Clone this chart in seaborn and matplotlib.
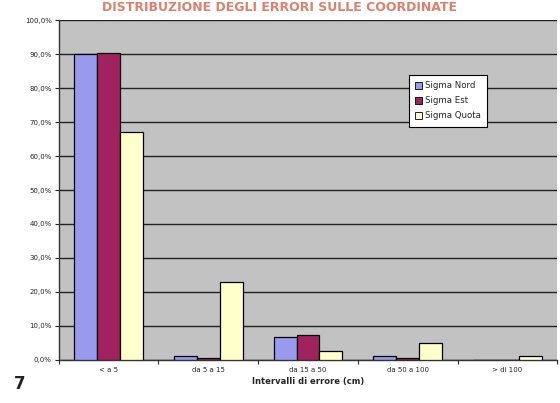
import pandas as pd
import numpy as np
import matplotlib
matplotlib.use('Agg')
import matplotlib.pyplot as plt
import seaborn as sns
from matplotlib.ticker import FuncFormatter, MultipleLocator, FixedLocator

# data (percent of points per error interval)
categories = ['< a 5', 'da 5 a 15', 'da 15 a 50', 'da 50 a 100', '> di 100']
series = ['Sigma Nord', 'Sigma Est', 'Sigma Quota']
sigma_nord = [89.9, 1.0, 6.6, 1.0, 0.0]
sigma_est = [90.3, 0.5, 7.2, 0.5, 0.0]
sigma_quota = [67.2, 23.0, 2.7, 5.0, 1.1]
palette = ['#9999EE', '#A0235F', '#FFFFCC']

df = pd.DataFrame({
    'intervallo': categories * 3,
    'serie': [s for s in series for _ in categories],
    'valore': sigma_nord + sigma_est + sigma_quota,
})

sns.set_style('white')
plt.rcParams['font.family'] = ['DejaVu Sans']

fig = plt.figure(figsize=(5.6, 4.03), dpi=100)
ax = fig.add_axes([0.105, 0.107, 0.89, 0.843])

sns.barplot(data=df, x='intervallo', y='valore', hue='serie', order=categories,
            hue_order=series, palette=palette, width=0.69, edgecolor='black',
            linewidth=0.9, saturation=1, errorbar=None, ax=ax, zorder=3)

ax.set_facecolor('#C2C2C2')
ax.set_ylim(0, 100)
ax.set_xlim(-0.5, 4.5)
ax.yaxis.set_major_locator(MultipleLocator(10))
ax.yaxis.set_major_formatter(FuncFormatter(lambda v, p: f'{v:.1f}%'.replace('.', ',')))
ax.grid(axis='y', color='#222222', linewidth=1.0, zorder=1)
ax.set_axisbelow(True)

for s in ['top', 'right']:
    ax.spines[s].set_visible(False)
for s in ['left', 'bottom']:
    ax.spines[s].set_color('#333333')
    ax.spines[s].set_linewidth(1.0)

ax.tick_params(axis='y', labelsize=5, length=3, width=0.8, direction='out', left=True, pad=2)
ax.tick_params(axis='x', which='major', labelsize=5, length=0, pad=5)
ax.xaxis.set_minor_locator(FixedLocator(np.arange(-0.5, 5, 1)))
ax.tick_params(axis='x', which='minor', length=3, width=0.8, direction='out', bottom=True)

ax.set_ylabel('')
ax.set_xlabel('Intervalli di errore (cm)', fontsize=6, fontweight='bold', labelpad=3)

leg = ax.legend(loc='upper left', bbox_to_anchor=(0.694, 0.85), fontsize=6.2, frameon=True,
                fancybox=False, edgecolor='black', framealpha=1, handlelength=0.8,
                handleheight=0.8, handletextpad=0.4, borderpad=0.7, labelspacing=0.7)
leg.get_frame().set_linewidth(0.8)
for h in leg.legend_handles:
    h.set_edgecolor('black')
    h.set_linewidth(0.6)

# figure number and page title
fig.text(0.025, 0.035, '7', fontsize=12, fontweight='bold', color='#222222')
fig.text(0.5, 0.997, "DISTRIBUZIONE DEGLI ERRORI SULLE COORDINATE", fontsize=9,
         fontweight='bold', color='#d2553c', alpha=0.75, ha='center', va='top')

fig.savefig('out.png', dpi=100)
